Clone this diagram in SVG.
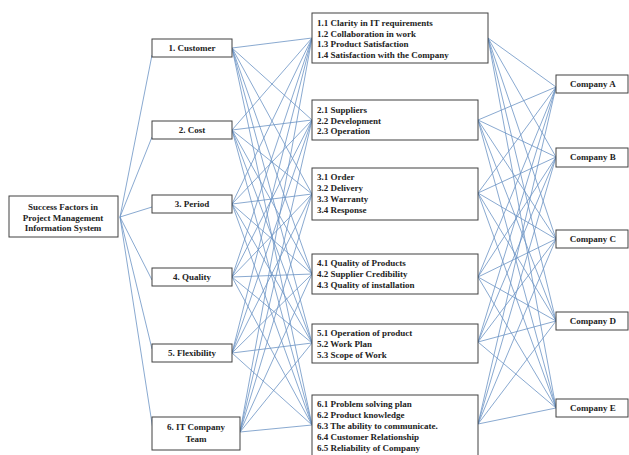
<svg xmlns="http://www.w3.org/2000/svg" width="629" height="455" viewBox="0 0 629 455">
<style>
.box{fill:#fff;stroke:#404040;stroke-width:1}
.t{font-family:"Liberation Serif","Times New Roman",serif;font-weight:bold;font-size:9px;fill:#222}
.c{text-anchor:middle}
.ln{stroke:#6b93c4;stroke-width:0.8;fill:none}
</style>
<rect width="629" height="455" fill="#fff"/>
<g id="connectors" class="ln">
<path d="M120 217L152 55M120 217L152 137M120 217L152 207M120 217L152 280M120 217L152 349M120 217L153 430"/>
<path d="M232 48L312 38M232 48L312 120M232 48L312 194M232 48L312 274M232 48L312 343M232 48L312 425
M232 130L312 38M232 130L312 120M232 130L312 194M232 130L312 274M232 130L312 343M232 130L312 425
M232 204L312 38M232 204L312 120M232 204L312 194M232 204L312 274M232 204L312 343M232 204L312 425
M232 277L312 38M232 277L312 120M232 277L312 194M232 277L312 274M232 277L312 343M232 277L312 425
M232 353L312 38M232 353L312 120M232 353L312 194M232 353L312 274M232 353L312 343M232 353L312 425
M240 432L312 38M240 432L312 120M240 432L312 194M240 432L312 274M240 432L312 343M240 432L312 425"/>
<path d="M488 38L556 87M488 38L556 157M488 38L556 239M488 38L556 321M488 38L556 408
M478 120L556 87M478 120L556 157M478 120L556 239M478 120L556 321M478 120L556 408
M478 193L556 87M478 193L556 157M478 193L556 239M478 193L556 321M478 193L556 408
M478 277L556 87M478 277L556 157M478 277L556 239M478 277L556 321M478 277L556 408
M478 342L556 87M478 342L556 157M478 342L556 239M478 342L556 321M478 342L556 408
M478 424L556 87M478 424L556 157M478 424L556 239M478 424L556 321M478 424L556 408"/>
</g>
<g id="root">
<rect class="box" x="9" y="196" width="109" height="41"/>
<text class="t c" x="63" y="210">Success Factors  in</text>
<text class="t c" x="63" y="220.5">Project Management</text>
<text class="t c" x="63" y="231">Information  System</text>
</g>
<g id="customer"><rect class="box" x="152" y="39" width="80" height="18"/><text class="t c" x="192" y="51">1. Customer</text></g>
<g id="cost"><rect class="box" x="152" y="121" width="80" height="18"/><text class="t c" x="192" y="133">2. Cost</text></g>
<g id="period"><rect class="box" x="152" y="195" width="80" height="18"/><text class="t c" x="192" y="207">3. Period</text></g>
<g id="quality"><rect class="box" x="152" y="268" width="80" height="18"/><text class="t c" x="192" y="280">4. Quality</text></g>
<g id="flexibility"><rect class="box" x="152" y="344" width="80" height="18"/><text class="t c" x="192" y="356">5. Flexibility</text></g>
<g id="team"><rect class="box" x="152" y="417" width="88" height="33"/><text class="t c" x="196" y="430">6. IT  Company</text><text class="t c" x="196" y="442">Team</text></g>
<g id="sub1"><rect class="box" x="312" y="13" width="176" height="50"/>
<text class="t" x="317" y="26">1.1 Clarity in IT  requirements</text>
<text class="t" x="317" y="36.5">1.2 Collaboration  in work</text>
<text class="t" x="317" y="47">1.3 Product  Satisfaction</text>
<text class="t" x="317" y="57.5">1.4 Satisfaction with the Company</text></g>
<g id="sub2"><rect class="box" x="312" y="100" width="166" height="40"/>
<text class="t" x="317" y="113">2.1 Suppliers</text>
<text class="t" x="317" y="123.5">2.2 Development</text>
<text class="t" x="317" y="134">2.3 Operation</text></g>
<g id="sub3"><rect class="box" x="312" y="168" width="166" height="52"/>
<text class="t" x="317" y="180">3.1 Order</text>
<text class="t" x="317" y="191">3.2 Delivery</text>
<text class="t" x="317" y="202">3.3 Warranty</text>
<text class="t" x="317" y="213">3.4 Response</text></g>
<g id="sub4"><rect class="box" x="312" y="254" width="166" height="40"/>
<text class="t" x="317" y="266">4.1 Quality of Products</text>
<text class="t" x="317" y="277">4.2 Supplier  Credibility</text>
<text class="t" x="317" y="287.5">4.3 Quality of installation</text></g>
<g id="sub5"><rect class="box" x="312" y="324" width="166" height="39"/>
<text class="t" x="317" y="336">5.1 Operation  of product</text>
<text class="t" x="317" y="347">5.2 Work Plan</text>
<text class="t" x="317" y="357.5">5.3 Scope of Work</text></g>
<g id="sub6"><rect class="box" x="312" y="395" width="166" height="64"/>
<text class="t" x="317" y="407">6.1 Problem  solving plan</text>
<text class="t" x="317" y="418">6.2 Product  knowledge</text>
<text class="t" x="317" y="429">6.3 The ability to communicate.</text>
<text class="t" x="317" y="440">6.4 Customer  Relationship</text>
<text class="t" x="317" y="450.5">6.5 Reliability of Company</text></g>
<g id="companyA"><rect class="box" x="556" y="75" width="72" height="18"/><text class="t c" x="593" y="87">Company  A</text></g>
<g id="companyB"><rect class="box" x="556" y="148" width="72" height="19"/><text class="t c" x="593" y="160">Company  B</text></g>
<g id="companyC"><rect class="box" x="556" y="230" width="72" height="18"/><text class="t c" x="593" y="242">Company  C</text></g>
<g id="companyD"><rect class="box" x="556" y="312" width="72" height="18"/><text class="t c" x="593" y="324">Company  D</text></g>
<g id="companyE"><rect class="box" x="556" y="399" width="72" height="18"/><text class="t c" x="593" y="411">Company  E</text></g>
</svg>
